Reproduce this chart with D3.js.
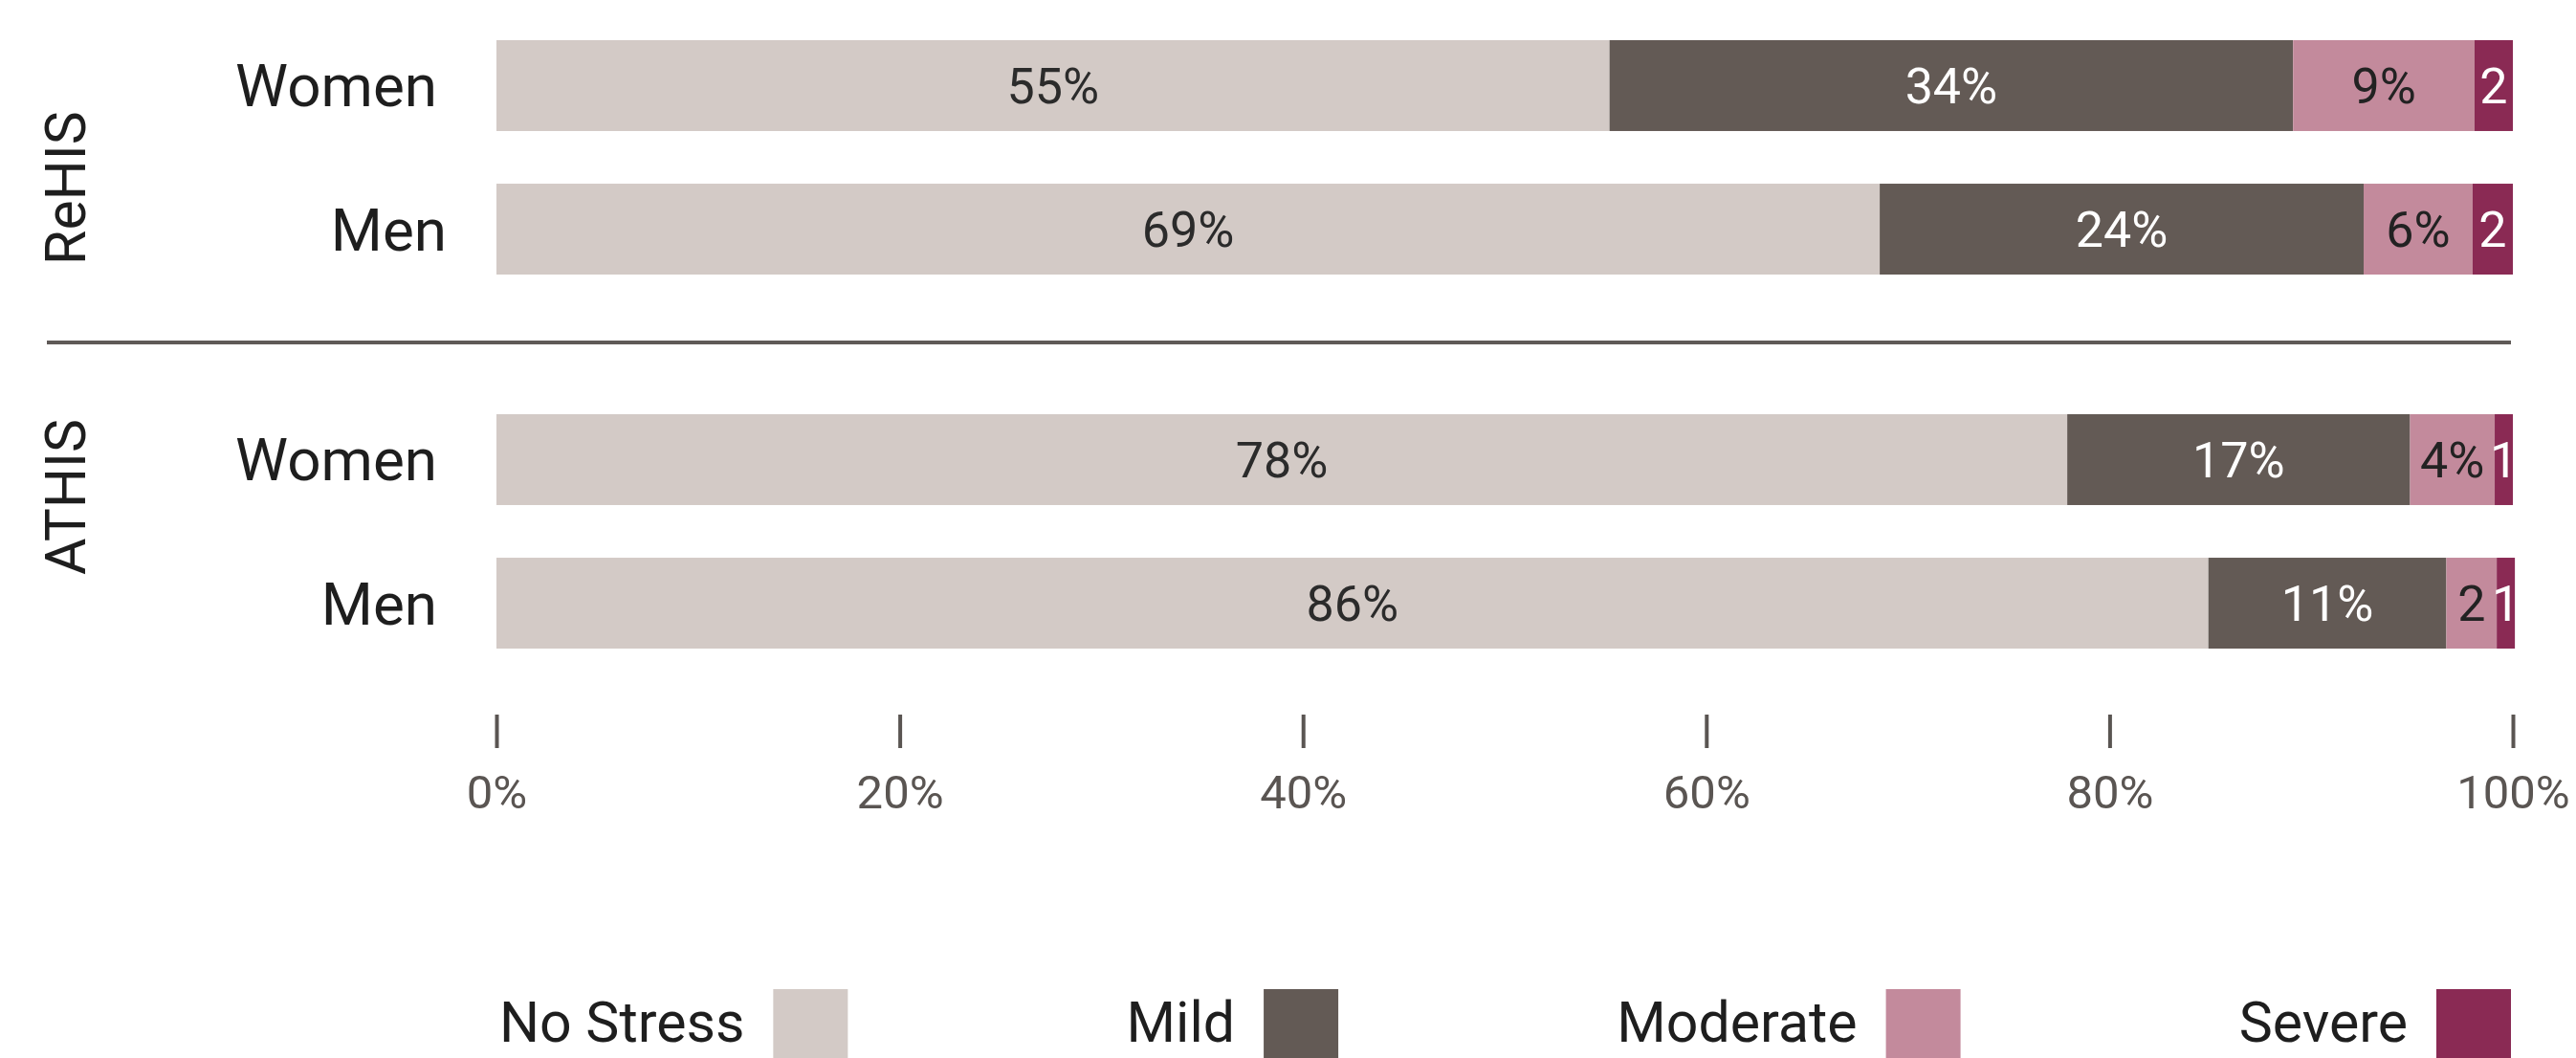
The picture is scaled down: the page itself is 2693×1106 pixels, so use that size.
<!DOCTYPE html>
<html>
<head>
<meta charset="utf-8">
<script src="https://cdn.jsdelivr.net/npm/d3@7"></script>
<style>
  html, body { margin: 0; padding: 0; background: #fff; }
  svg { display: block; font-family: Roboto, "Noto Sans", sans-serif; }
</style>
</head>
<body>
<script>
// data
const surveys = ["ReHIS", "ATHIS"];
const sexes = ["Women", "Men"];
const levels = ["No Stress", "Mild", "Moderate", "Severe"];

// shares per level, in the order of levels
const rehisWomen = [55.2, 33.9, 9.0, 1.9];
const rehisMen = [68.6, 24.0, 5.4, 2.0];
const athisWomen = [77.9, 17.0, 4.2, 0.9];
const athisMen = [84.9, 11.8, 2.5, 0.9];

// printed labels inside the segments
const rehisWomenLabels = ["55%", "34%", "9%", "2"];
const rehisMenLabels = ["69%", "24%", "6%", "2"];
const athisWomenLabels = ["78%", "17%", "4%", "1"];
const athisMenLabels = ["86%", "11%", "2", "1"];

const ticks = [0, 20, 40, 60, 80, 100];

const colors = ["#d3cac6", "#635a55", "#c38a9c", "#8a2a54"];
const labelColors = ["#2b2b2b", "#ffffff", "#222222", "#ffffff"];

const rows = [
  { survey: "ReHIS", sex: "Women", values: rehisWomen, labels: rehisWomenLabels },
  { survey: "ReHIS", sex: "Men", values: rehisMen, labels: rehisMenLabels },
  { survey: "ATHIS", sex: "Women", values: athisWomen, labels: athisWomenLabels },
  { survey: "ATHIS", sex: "Men", values: athisMen, labels: athisMenLabels }
];

const width = 2693, height = 1106;

const svg = d3.select("body").append("svg")
  .attr("width", width)
  .attr("height", height);

const x = d3.scaleLinear().domain([0, 100]).range([519, 2627]);

// one band per survey, then one band per sex inside it
const yGroup = d3.scaleBand().domain(surveys).range([42, 824]);
const yRow = d3.scaleBand().domain(sexes).range([0, 245]).paddingInner(0.367);

const rowTop = function (d) { return yGroup(d.survey) + yRow(d.sex); };
const rowMid = function (d) { return rowTop(d) + yRow.bandwidth() / 2; };

// stacked segments
rows.forEach(function (r) {
  let acc = 0;
  r.segs = r.values.map(function (v, i) {
    const s = { x0: acc, x1: acc + v, i: i, label: r.labels[i], row: r };
    acc += v;
    return s;
  });
});

const bars = svg.append("g").selectAll("g")
  .data(rows)
  .enter().append("g");

bars.selectAll("rect")
  .data(function (d) { return d.segs; })
  .enter().append("rect")
  .attr("x", function (d) { return x(d.x0); })
  .attr("width", function (d) { return x(d.x1) - x(d.x0); })
  .attr("y", function (d) { return rowTop(d.row); })
  .attr("height", yRow.bandwidth())
  .attr("fill", function (d) { return colors[d.i]; });

const valueSize = 52;
bars.selectAll("text")
  .data(function (d) { return d.segs; })
  .enter().append("text")
  .text(function (d) { return d.label; })
  .attr("text-anchor", "middle")
  .attr("x", function (d) { return (x(d.x0) + x(d.x1)) / 2; })
  .attr("y", function (d) { return rowMid(d.row) + valueSize * 0.355; })
  .attr("font-size", valueSize)
  .attr("fill", function (d) { return labelColors[d.i]; });

// row labels
svg.append("g").selectAll("text")
  .data(rows)
  .enter().append("text")
  .text(function (d) { return d.sex; })
  .attr("text-anchor", "end")
  .attr("x", function (d) { return d.survey === "ReHIS" && d.sex === "Men" ? 467 : 457; })
  .attr("y", function (d) { return rowMid(d) + 62 * 0.355; })
  .attr("font-size", 62)
  .attr("fill", "#1e1e1e");

// survey labels, rotated
const groupOffset = { ReHIS: 32, ATHIS: -36 };
svg.append("g").selectAll("text")
  .data(surveys)
  .enter().append("text")
  .text(function (d) { return d; })
  .attr("text-anchor", "middle")
  .attr("font-size", 59)
  .attr("fill", "#1e1e1e")
  .attr("transform", function (d) {
    const cy = yGroup(d) + 245 / 2 + groupOffset[d];
    return "translate(89," + cy + ") rotate(-90)";
  });

// divider between the two surveys
svg.append("line")
  .attr("x1", 49).attr("x2", 2625)
  .attr("y1", 358).attr("y2", 358)
  .attr("stroke", "#5f5a57")
  .attr("stroke-width", 4);

// x axis: ticks only, no domain line
const axis = svg.append("g")
  .attr("transform", "translate(0,747)")
  .call(d3.axisBottom(x)
    .tickValues(ticks)
    .tickFormat(function (d) { return d + "%"; })
    .tickSize(35)
    .tickPadding(28));

axis.select(".domain").remove();
axis.selectAll(".tick line")
  .attr("stroke", "#5a5552")
  .attr("stroke-width", 4);
axis.selectAll(".tick text")
  .attr("font-size", 49)
  .attr("font-family", "Roboto, sans-serif")
  .attr("fill", "#5a5552");

// legend: text then swatch, items spread so the last swatch ends at the bars' right edge
const legend = svg.append("g");
const legendSize = 59, swatchW = 78, swatchGap = 30;
const items = levels.map(function (name, i) {
  const t = legend.append("text")
    .text(name)
    .attr("y", 1089)
    .attr("font-size", legendSize)
    .attr("fill", "#1e1e1e");
  return { t: t, w: t.node().getComputedTextLength(), i: i };
});
const legendStart = 522, legendEnd = 2625;
const used = d3.sum(items, function (d) { return d.w + swatchGap + swatchW; });
const gap = (legendEnd - legendStart - used) / (items.length - 1);
let lx = legendStart;
items.forEach(function (d) {
  d.t.attr("x", lx);
  legend.append("rect")
    .attr("x", lx + d.w + swatchGap)
    .attr("y", 1034)
    .attr("width", swatchW)
    .attr("height", 80)
    .attr("fill", colors[d.i]);
  lx += d.w + swatchGap + swatchW + gap;
});
</script>
</body>
</html>
